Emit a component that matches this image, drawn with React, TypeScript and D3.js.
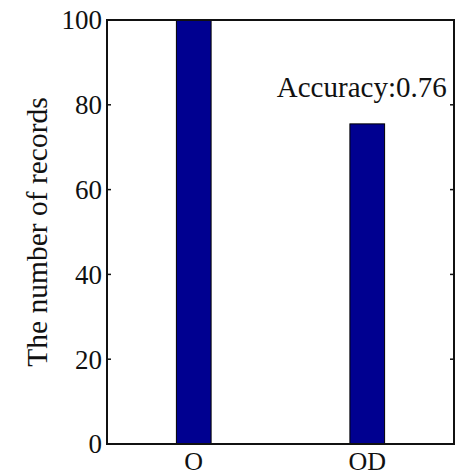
import React from "react";
import * as d3 from "d3";

const categories = ["O", "OD"];
const values = [100, 75.5];
const yTicks = [0, 20, 40, 60, 80, 100];
const annotation = "Accuracy:0.76";
const yLabel = "The number of records";

export default function App() {
  const W = 465, H = 476;
  const left = 107, right = 454, top = 20, bottom = 444;
  const x = d3.scaleLinear().domain([0.5, 2.5]).range([left, right]);
  const y = d3.scaleLinear().domain([0, 100]).range([bottom, top]);
  const bw = x(0.7) - x(0.5);
  const font = "'Liberation Serif', 'Times New Roman', serif";
  return (
    <svg width={W} height={H} style={{ position: "absolute", left: 0, top: 0, background: "#fff" }}>
      {values.map((v, i) => (
        <rect key={i} x={x(i + 1) - bw / 2} y={y(v)} width={bw} height={y(0) - y(v)}
          fill="#000090" stroke="#000" strokeWidth={1} />
      ))}
      <rect x={left} y={top} width={right - left} height={bottom - top} fill="none" stroke="#111" strokeWidth={2} />
      {yTicks.map((t) => (
        <g key={t}>
          <line x1={left} x2={left + 4} y1={y(t)} y2={y(t)} stroke="#111" strokeWidth={1.5} />
          <line x1={right} x2={right - 4} y1={y(t)} y2={y(t)} stroke="#111" strokeWidth={1.5} />
          <text x={left - 5} y={y(t)} dy="0.35em" textAnchor="end" fontFamily={font} fontSize={27} fill="#111">{t}</text>
        </g>
      ))}
      {categories.map((c, i) => (
        <text key={c} x={x(i + 1)} y={470} textAnchor="middle" fontFamily={font} fontSize={26} fill="#111">{c}</text>
      ))}
      <text x={x(2) - 5.5} y={97} textAnchor="middle" fontFamily={font} fontSize={29} fill="#111">{annotation}</text>
      <text transform={`translate(47,${(top + bottom) / 2}) rotate(-90)`} textAnchor="middle" fontFamily={font} fontSize={29.5} fill="#111">{yLabel}</text>
    </svg>
  );
}
